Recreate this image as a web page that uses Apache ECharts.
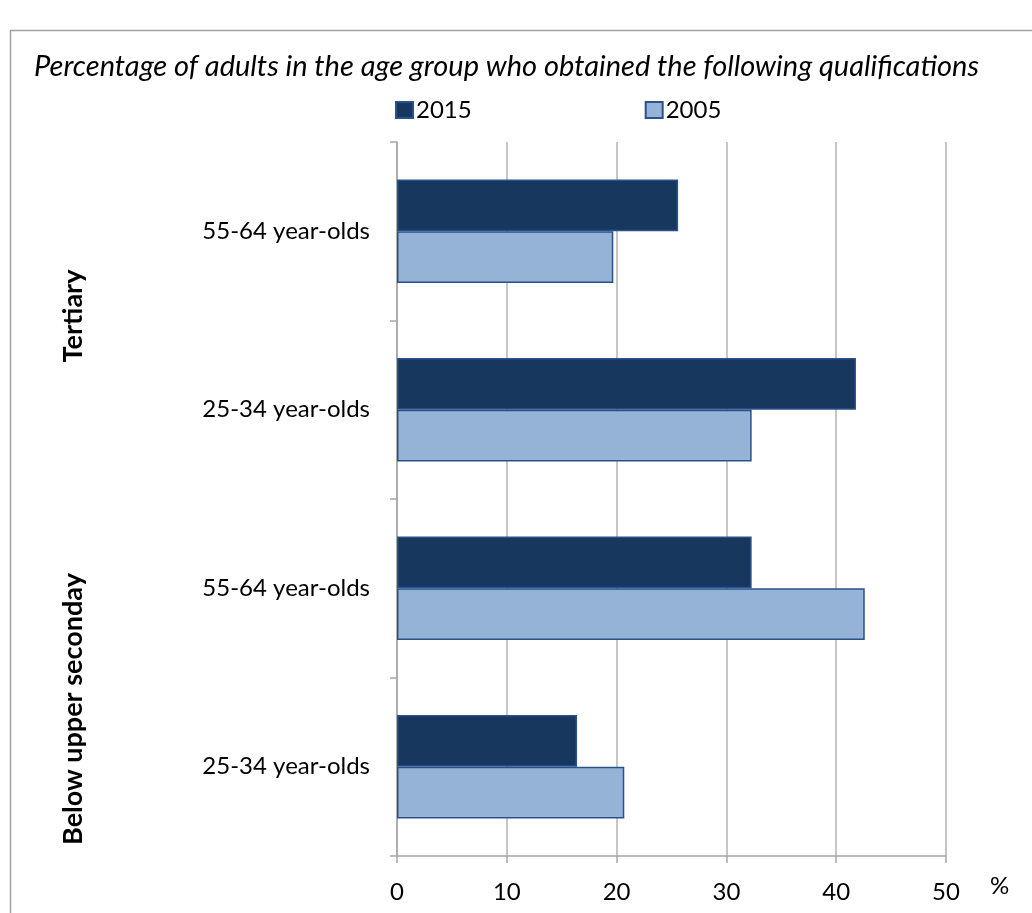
<!DOCTYPE html>
<html>
<head>
<meta charset="utf-8">
<script src="https://cdn.jsdelivr.net/npm/echarts@6/dist/echarts.min.js"></script>
<style>
html,body{margin:0;padding:0;background:#fff;}
#main{width:1032px;height:913px;}
</style>
</head>
<body>
<div id="main"></div>
<script>
// Data (categories listed bottom to top, as ECharts draws a category y-axis)
const categories = ['25-34 year-olds', '55-64 year-olds', '25-34 year-olds ', '55-64 year-olds '];
const groupLabels = ['Below upper seconday', 'Tertiary'];
const values2015 = [16.4, 32.3, 41.8, 25.6];
const values2005 = [20.7, 42.6, 32.3, 19.7];
const seriesNames = ['2015', '2005'];
const xTicks = [0, 10, 20, 30, 40, 50];

const FONT = 'Lato, "Open Sans", sans-serif';
const chart = echarts.init(document.getElementById('main'), null, {renderer: 'canvas'});

chart.setOption({
  animation: false,
  backgroundColor: '#ffffff',
  title: {
    text: 'Percentage of adults in the age group who obtained the following qualifications',
    left: 29, top: 47,
    textStyle: {fontFamily: FONT, fontStyle: 'italic', fontWeight: 'normal', fontSize: 29, color: '#000'}
  },
  legend: {
    data: seriesNames,
    left: 390, top: 93,
    itemWidth: 17, itemHeight: 16, itemGap: 173,
    icon: 'rect',
    textStyle: {fontFamily: FONT, fontSize: 24, color: '#000', padding: [0, 0, 0, -2]}
  },
  grid: {left: 397, right: 86, top: 142, bottom: 57, containLabel: false},
  xAxis: {
    type: 'value', min: 0, max: 50, interval: 10,
    axisLine: {show: true, lineStyle: {color: '#a6a6a6', width: 1.5}},
    axisTick: {show: true, length: 7, lineStyle: {color: '#a6a6a6', width: 1.5}},
    splitLine: {show: true, lineStyle: {color: '#b3b3b3', width: 1.5}},
    axisLabel: {fontFamily: FONT, fontSize: 24, color: '#000', margin: 24,
      formatter: v => xTicks.includes(v) ? String(v) : ''},
    name: '%', nameLocation: 'end', nameGap: 44,
    nameTextStyle: {fontFamily: FONT, fontSize: 24, color: '#000', verticalAlign: 'top', padding: [18, 0, 0, 0]}
  },
  yAxis: {
    type: 'category', data: categories,
    axisLine: {show: true, lineStyle: {color: '#a6a6a6', width: 1.5}},
    axisTick: {show: true, length: 7, lineStyle: {color: '#a6a6a6', width: 1.5}},
    axisLabel: {fontFamily: FONT, fontSize: 24, color: '#000', margin: 27, formatter: v => v.trim()}
  },
  series: [
    {
      name: '2015', type: 'bar', data: values2015,
      barCategoryGap: '42%', barGap: '0%',
      itemStyle: {color: '#17375e', borderColor: '#2a5189', borderWidth: 1.5}
    },
    {
      name: '2005', type: 'bar', data: values2005,
      barCategoryGap: '42%', barGap: '0%',
      itemStyle: {color: '#95b3d7', borderColor: '#2a5189', borderWidth: 1.5}
    }
  ],
  graphic: [
    {type: 'rect', shape: {x: 10.5, y: 30.5, width: 1040, height: 900},
     style: {fill: 'none', stroke: '#a0a0a0', lineWidth: 1.5}, silent: true},
    {type: 'text', x: 73, y: 316, rotation: Math.PI / 2,
     style: {text: groupLabels[1], font: 'bold 27px ' + FONT, fill: '#000', align: 'center', verticalAlign: 'middle'}},
    {type: 'text', x: 73, y: 709, rotation: Math.PI / 2,
     style: {text: groupLabels[0], font: 'bold 27px ' + FONT, fill: '#000', align: 'center', verticalAlign: 'middle'}}
  ]
});
</script>
</body>
</html>
